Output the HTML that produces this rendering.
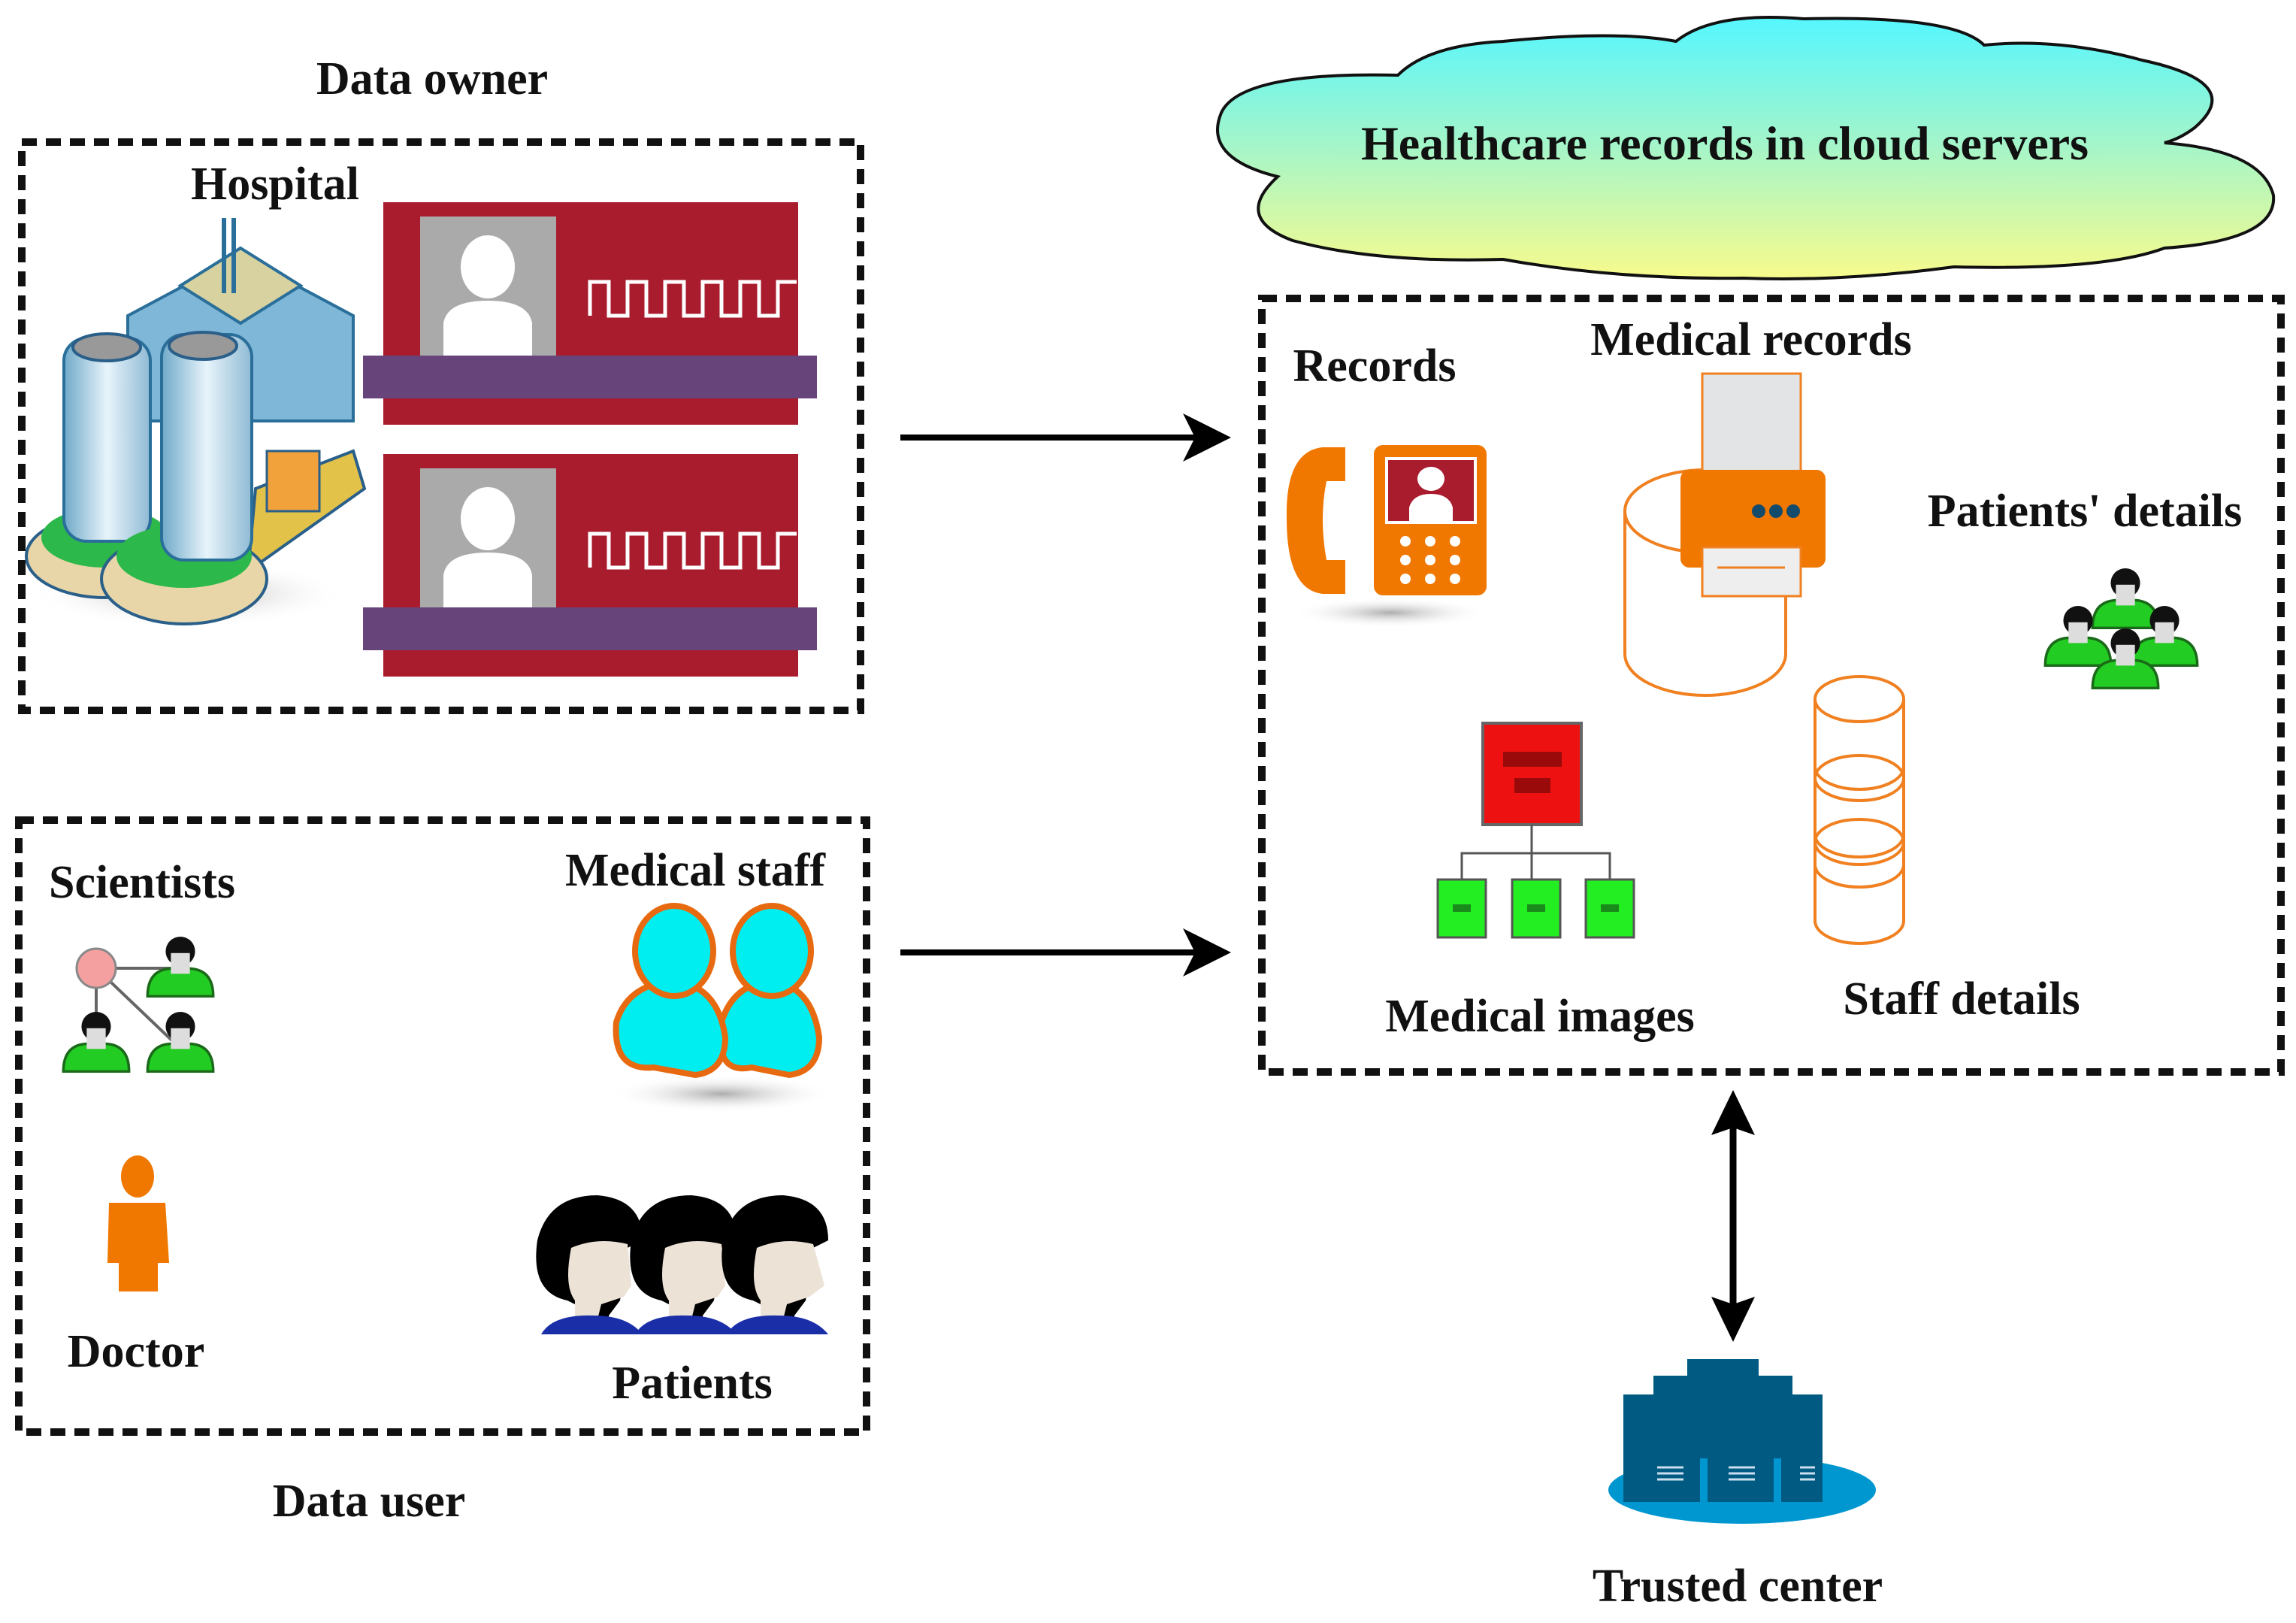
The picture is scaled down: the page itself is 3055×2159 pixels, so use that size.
<!DOCTYPE html>
<html><head><meta charset="utf-8"><style>
html,body{margin:0;padding:0;background:#fff;}
svg{display:block;}
text{font-family:"Liberation Serif",serif;font-weight:bold;fill:#111;}
</style></head><body>
<svg width="3055" height="2159" viewBox="0 0 3055 2159" xmlns="http://www.w3.org/2000/svg">
<defs>
<linearGradient id="cg" x1="0" y1="0" x2="0" y2="1"><stop offset="0" stop-color="#55f6ff"/><stop offset="0.5" stop-color="#a6f5c8"/><stop offset="1" stop-color="#f8fb8c"/></linearGradient>
<linearGradient id="bg" x1="0" y1="0" x2="1" y2="0"><stop offset="0" stop-color="#6fa9c9"/><stop offset="0.5" stop-color="#e8f4fb"/><stop offset="1" stop-color="#8fbad4"/></linearGradient>
<radialGradient id="sh"><stop offset="0" stop-color="#999" stop-opacity="0.8"/><stop offset="1" stop-color="#fff" stop-opacity="0"/></radialGradient>
<marker id="ah" markerWidth="8" markerHeight="8" refX="7" refY="4" orient="auto" markerUnits="strokeWidth"><path d="M0,0 L8,4 L0,8 L2,4 Z" fill="#000"/></marker>
<g id="grn"><circle cx="0" cy="-30" r="17" fill="#111"/><path d="M-38,22 Q-38,-8 -12,-10 L12,-10 Q38,-8 38,22 Z" fill="#22cc22" stroke="#1a6a1a" stroke-width="3"/><rect x="-11" y="-28" width="22" height="24" fill="#ddd"/></g>
</defs>

<text x="575" y="125" font-size="62" text-anchor="middle">Data owner</text>
<rect x="29" y="189" width="1116" height="756" fill="none" stroke="#111" stroke-width="10" stroke-dasharray="20 12"/>
<text x="366" y="265" font-size="62" text-anchor="middle">Hospital</text>

<!-- Hospital icon -->
<ellipse cx="250" cy="790" rx="210" ry="45" fill="url(#sh)"/>
<path d="M170,420 L320,340 L470,420 L470,560 L170,560 Z" fill="#7fb7d8" stroke="#2a6f9a" stroke-width="4"/>
<path d="M240,380 L320,330 L400,380 L320,430 Z" fill="#d8d2a0" stroke="#2a6f9a" stroke-width="4"/>
<rect x="295" y="290" width="6" height="100" fill="#2a6f9a"/><rect x="308" y="290" width="6" height="100" fill="#2a6f9a"/>
<ellipse cx="140" cy="740" rx="105" ry="55" fill="#e8d6a8" stroke="#2a5f8a" stroke-width="4"/>
<ellipse cx="140" cy="715" rx="85" ry="40" fill="#2cb84a"/>
<rect x="85" y="450" width="115" height="270" rx="30" fill="url(#bg)" stroke="#2a6f9a" stroke-width="4"/>
<ellipse cx="142" cy="462" rx="45" ry="18" fill="#999" stroke="#2a5f8a" stroke-width="4"/>
<path d="M340,650 L470,600 L485,650 L330,760 Z" fill="#e3c24a" stroke="#2a5f8a" stroke-width="4"/>
<ellipse cx="245" cy="770" rx="110" ry="60" fill="#e8d6a8" stroke="#2a5f8a" stroke-width="4"/>
<ellipse cx="245" cy="740" rx="90" ry="42" fill="#2cb84a"/>
<rect x="215" y="445" width="120" height="300" rx="30" fill="url(#bg)" stroke="#2a6f9a" stroke-width="4"/>
<ellipse cx="270" cy="460" rx="45" ry="18" fill="#999" stroke="#2a5f8a" stroke-width="4"/>
<rect x="355" y="600" width="70" height="80" fill="#f2a23a" stroke="#2a5f8a" stroke-width="3"/>

<g>
<rect x="510" y="269" width="552" height="296" fill="#a81c2e"/>
<rect x="559" y="288" width="181" height="185" fill="#aaa"/>
<ellipse cx="649" cy="355" rx="36" ry="42" fill="#fff"/>
<path d="M590,473 L590,430 Q595,400 649,400 Q703,400 708,430 L708,473 Z" fill="#fff"/>
<path d="M785,420 L785,375 L810,375 L810,420 L835,420 L835,375 L860,375 L860,420 L885,420 L885,375 L910,375 L910,420 L935,420 L935,375 L960,375 L960,420 L985,420 L985,375 L1010,375 L1010,420 L1035,420 L1035,375 L1060,375" fill="none" stroke="#fff" stroke-width="5"/>
<rect x="483" y="473" width="604" height="57" fill="#67447a"/>
</g>
<g transform="translate(0,335)">
<rect x="510" y="269" width="552" height="296" fill="#a81c2e"/>
<rect x="559" y="288" width="181" height="185" fill="#aaa"/>
<ellipse cx="649" cy="355" rx="36" ry="42" fill="#fff"/>
<path d="M590,473 L590,430 Q595,400 649,400 Q703,400 708,430 L708,473 Z" fill="#fff"/>
<path d="M785,420 L785,375 L810,375 L810,420 L835,420 L835,375 L860,375 L860,420 L885,420 L885,375 L910,375 L910,420 L935,420 L935,375 L960,375 L960,420 L985,420 L985,375 L1010,375 L1010,420 L1035,420 L1035,375 L1060,375" fill="none" stroke="#fff" stroke-width="5"/>
<rect x="483" y="473" width="604" height="57" fill="#67447a"/>
</g>

<line x1="1198" y1="582" x2="1630" y2="582" stroke="#000" stroke-width="8" marker-end="url(#ah)"/>
<line x1="1198" y1="1267" x2="1630" y2="1267" stroke="#000" stroke-width="8" marker-end="url(#ah)"/>

<rect x="25" y="1091" width="1128" height="814" fill="none" stroke="#111" stroke-width="10" stroke-dasharray="20 12"/>
<text x="189" y="1194" font-size="62" text-anchor="middle">Scientists</text>
<text x="925" y="1178" font-size="62" text-anchor="middle">Medical staff</text>
<text x="181" y="1818" font-size="62" text-anchor="middle">Doctor</text>
<text x="921" y="1860" font-size="62" text-anchor="middle">Patients</text>
<text x="491" y="2017" font-size="62" text-anchor="middle">Data user</text>

<line x1="128" y1="1288" x2="230" y2="1288" stroke="#666" stroke-width="4"/>
<line x1="128" y1="1288" x2="128" y2="1380" stroke="#666" stroke-width="4"/>
<line x1="128" y1="1288" x2="235" y2="1390" stroke="#666" stroke-width="4"/>
<circle cx="128" cy="1288" r="26" fill="#f4a0a0" stroke="#888" stroke-width="3"/>
<use href="#grn" transform="translate(240,1300) scale(1.15)"/>
<use href="#grn" transform="translate(128,1400) scale(1.15)"/>
<use href="#grn" transform="translate(240,1400) scale(1.15)"/>

<!-- Medical staff icon -->
<ellipse cx="960" cy="1455" rx="150" ry="25" fill="url(#sh)"/>
<g fill="#00eef0" stroke="#e86a10" stroke-width="8">
<path d="M1000,1420 Q950,1430 960,1360 Q975,1310 1025,1305 Q1080,1310 1090,1380 Q1090,1425 1050,1430 Z"/>
<ellipse cx="1027" cy="1265" rx="52" ry="60"/>
<path d="M870,1420 Q815,1425 820,1360 Q835,1310 895,1305 Q955,1310 965,1380 Q965,1425 925,1430 Z"/>
<ellipse cx="897" cy="1265" rx="52" ry="60"/>
</g>

<ellipse cx="183" cy="1565" rx="22" ry="28" fill="#f07800"/>
<path d="M145,1600 L220,1600 L225,1680 L210,1680 L210,1718 L158,1718 L158,1680 L143,1680 Z" fill="#f07800"/>

<!-- Patients -->
<g>
<g transform="translate(715,1590)"><path d="M60,180 L60,150 L40,140 Q-10,130 0,60 Q15,0 80,0 Q140,5 140,60 L120,70 L110,140 L95,160 L95,180 Z" fill="#000"/><path d="M45,70 Q80,55 120,65 L125,120 L115,135 L85,145 L80,165 L50,165 L50,140 Q35,120 45,70 Z" fill="#ece2d6"/><path d="M5,185 Q20,158 75,160 Q120,160 140,185 Z" fill="#1a2ea8"/></g>
<g transform="translate(840,1590)"><path d="M60,180 L60,150 L40,140 Q-10,130 0,60 Q15,0 80,0 Q140,5 140,60 L120,70 L110,140 L95,160 L95,180 Z" fill="#000"/><path d="M45,70 Q80,55 120,65 L125,120 L115,135 L85,145 L80,165 L50,165 L50,140 Q35,120 45,70 Z" fill="#ece2d6"/><path d="M5,185 Q20,158 75,160 Q120,160 140,185 Z" fill="#1a2ea8"/></g>
<g transform="translate(962,1590)"><path d="M60,180 L60,150 L40,140 Q-10,130 0,60 Q15,0 80,0 Q140,5 140,60 L120,70 L110,140 L95,160 L95,180 Z" fill="#000"/><path d="M45,70 Q80,55 120,65 L135,120 L115,135 L85,145 L80,165 L50,165 L50,140 Q35,120 45,70 Z" fill="#ece2d6"/><path d="M5,185 Q20,158 75,160 Q120,160 140,185 Z" fill="#1a2ea8"/></g>
</g>

<path d="M1700,235 Q1600,210 1625,150 Q1650,95 1860,100 Q1900,60 2000,55 Q2150,40 2230,55 Q2280,15 2400,25 Q2600,20 2640,60 Q2740,50 2850,80 Q2990,110 2920,170 Q2900,185 2880,190 Q3010,200 3025,260 Q3030,320 2880,330 Q2800,360 2600,355 Q2450,375 2320,370 Q2150,372 2000,345 Q1830,350 1720,320 Q1640,290 1700,235 Z" fill="url(#cg)" stroke="#111" stroke-width="4"/>
<text x="2295" y="212" font-size="64" text-anchor="middle">Healthcare records in cloud servers</text>

<rect x="1679" y="397" width="1356" height="1029" fill="none" stroke="#111" stroke-width="10" stroke-dasharray="20 12"/>
<text x="1829" y="507" font-size="62" text-anchor="middle">Records</text>
<text x="2330" y="472" font-size="62" text-anchor="middle">Medical records</text>
<text x="2774" y="700" font-size="62" text-anchor="middle">Patients' details</text>
<text x="2049" y="1372" font-size="62" text-anchor="middle">Medical images</text>
<text x="2610" y="1349" font-size="62" text-anchor="middle">Staff details</text>

<ellipse cx="1850" cy="815" rx="130" ry="20" fill="url(#sh)"/>
<path d="M1760,595 Q1710,600 1712,690 Q1712,785 1760,790 L1790,790 L1790,745 L1765,745 Q1755,690 1765,640 L1790,640 L1790,595 Z" fill="#f07800"/>
<rect x="1828" y="592" width="150" height="200" rx="12" fill="#f07800"/>
<rect x="1845" y="610" width="118" height="85" fill="#a81c2e" stroke="#fff" stroke-width="4"/>
<ellipse cx="1904" cy="637" rx="18" ry="16" fill="#fff"/>
<path d="M1875,695 L1875,675 Q1880,657 1904,657 Q1928,657 1933,675 L1933,695 Z" fill="#fff"/>
<g fill="#fff"><circle cx="1870" cy="720" r="7"/><circle cx="1903" cy="720" r="7"/><circle cx="1936" cy="720" r="7"/><circle cx="1870" cy="745" r="7"/><circle cx="1903" cy="745" r="7"/><circle cx="1936" cy="745" r="7"/><circle cx="1870" cy="770" r="7"/><circle cx="1903" cy="770" r="7"/><circle cx="1936" cy="770" r="7"/></g>

<path d="M2162,680 L2162,870 A107,55 0 0,0 2376,870 L2376,680" fill="none" stroke="#f08020" stroke-width="4"/>
<ellipse cx="2269" cy="680" rx="107" ry="55" fill="#fff" stroke="#f08020" stroke-width="4"/>
<rect x="2265" y="497" width="131" height="135" fill="#e2e4e5" stroke="#f08020" stroke-width="3"/>
<rect x="2236" y="625" width="193" height="130" rx="12" fill="#f07800"/>
<circle cx="2340" cy="680" r="9" fill="#124b6b"/><circle cx="2363" cy="680" r="9" fill="#124b6b"/><circle cx="2386" cy="680" r="9" fill="#124b6b"/>
<rect x="2265" y="728" width="131" height="65" fill="#eee" stroke="#f08020" stroke-width="3"/>
<line x1="2285" y1="755" x2="2375" y2="755" stroke="#f08020" stroke-width="3"/>

<use href="#grn" transform="translate(2828,810) scale(1.15)"/>
<use href="#grn" transform="translate(2765,860) scale(1.15)"/>
<use href="#grn" transform="translate(2880,860) scale(1.15)"/>
<use href="#grn" transform="translate(2828,890) scale(1.15)"/>

<rect x="1973" y="962" width="131" height="135" fill="#ee1111" stroke="#666" stroke-width="4"/>
<rect x="2000" y="1000" width="78" height="20" fill="#9a0a0a"/><rect x="2015" y="1035" width="48" height="20" fill="#9a0a0a"/>
<path d="M2038,1097 L2038,1170 M1945,1170 L1945,1135 L2142,1135 L2142,1170" fill="none" stroke="#555" stroke-width="3"/>
<g fill="#22ee22" stroke="#555" stroke-width="3"><rect x="1913" y="1170" width="64" height="77"/><rect x="2012" y="1170" width="64" height="77"/><rect x="2110" y="1170" width="64" height="77"/></g>
<g fill="#1a8a1a"><rect x="1933" y="1203" width="24" height="10"/><rect x="2032" y="1203" width="24" height="10"/><rect x="2130" y="1203" width="24" height="10"/></g>

<g fill="#fff" stroke="#f08020" stroke-width="4">
<path d="M2415,930 L2415,1225 A59,30 0 0,0 2533,1225 L2533,930"/>
<ellipse cx="2474" cy="930" rx="59" ry="30"/>
<path d="M2415,1020 A59,30 0 0,0 2533,1020" fill="none"/>
<ellipse cx="2474" cy="1035" rx="59" ry="30" fill="none"/>
<path d="M2415,1110 A59,30 0 0,0 2533,1110" fill="none"/>
<ellipse cx="2474" cy="1120" rx="59" ry="30" fill="none"/>
<path d="M2415,1150 A59,30 0 0,0 2533,1150" fill="none"/>
</g>

<line x1="2306" y1="1500" x2="2306" y2="1735" stroke="#000" stroke-width="9"/>
<path d="M2306,1450 L2335,1510 L2306,1500 L2277,1510 Z" fill="#000"/>
<path d="M2306,1785 L2335,1725 L2306,1735 L2277,1725 Z" fill="#000"/>

<ellipse cx="2318" cy="1982" rx="178" ry="45" fill="#0097d0"/>
<path d="M2160,1998 L2160,1855 L2200,1855 L2200,1830 L2245,1830 L2245,1808 L2340,1808 L2340,1830 L2385,1830 L2385,1855 L2425,1855 L2425,1998 Z" fill="#005a82"/>
<g fill="#0097d0"><rect x="2262" y="1940" width="10" height="60"/><rect x="2360" y="1940" width="10" height="60"/></g>
<g stroke="#cde" stroke-width="3"><line x1="2205" y1="1952" x2="2240" y2="1952"/><line x1="2205" y1="1960" x2="2240" y2="1960"/><line x1="2205" y1="1968" x2="2240" y2="1968"/><line x1="2300" y1="1952" x2="2335" y2="1952"/><line x1="2300" y1="1960" x2="2335" y2="1960"/><line x1="2300" y1="1968" x2="2335" y2="1968"/><line x1="2395" y1="1952" x2="2415" y2="1952"/><line x1="2395" y1="1960" x2="2415" y2="1960"/><line x1="2395" y1="1968" x2="2415" y2="1968"/></g>
<text x="2312" y="2130" font-size="62" text-anchor="middle">Trusted center</text>
</svg>
</body></html>
